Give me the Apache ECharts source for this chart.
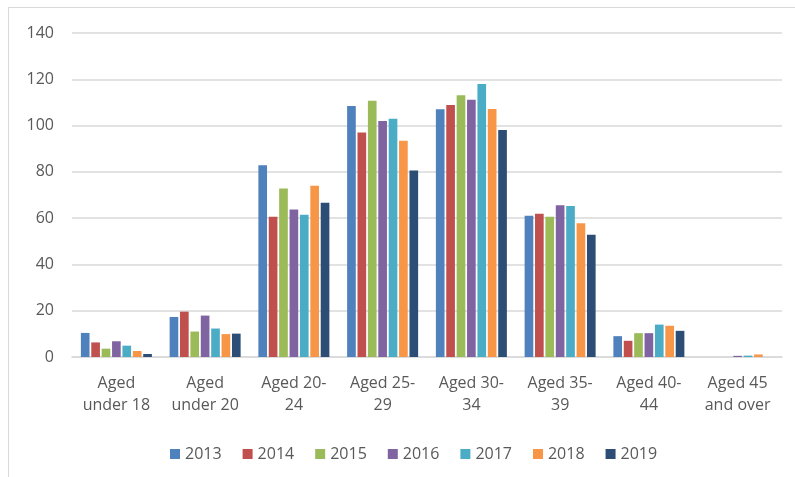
<!DOCTYPE html>
<html>
<head>
<meta charset="utf-8">
<script src="https://cdn.jsdelivr.net/npm/echarts@6/dist/echarts.min.js"></script>
<style>
  html, body { margin: 0; padding: 0; background: #fff; }
  #frame {
    position: absolute; left: 8px; top: 7px; width: 800px; height: 480px;
    border-left: 1px solid #d9d9d9; border-top: 1px solid #d9d9d9;
  }
  #chart { position: absolute; left: 0; top: 0; width: 795px; height: 477px; }
</style>
</head>
<body>
<div id="frame"></div>
<div id="chart"></div>
<script>
// age groups on the x axis
var ageGroups = ['Aged\nunder 18', 'Aged\nunder 20', 'Aged 20-\n24', 'Aged 25-\n29',
  'Aged 30-\n34', 'Aged 35-\n39', 'Aged 40-\n44', 'Aged 45\nand over']
var years = ['2013', '2014', '2015', '2016', '2017', '2018', '2019']
var yearColors = ['#4F81BD', '#C0504D', '#9BBB59', '#8064A2', '#4BACC6', '#F79646', '#2C4D75']
// values per year, one per age group
var v2013 = [10.4, 17.3, 82.9, 108.5, 107.0, 61.0, 9.0, 0]
var v2014 = [6.3, 19.6, 60.6, 97.0, 108.9, 61.9, 7.0, 0]
var v2015 = [3.6, 11.0, 72.8, 110.7, 113.1, 60.6, 10.3, 0]
var v2016 = [6.8, 17.9, 63.7, 102.0, 111.2, 65.6, 10.3, 0.5]
var v2017 = [4.9, 12.3, 61.5, 102.9, 118.0, 65.2, 14.0, 0.6]
var v2018 = [2.6, 9.9, 74.0, 93.4, 107.2, 57.8, 13.5, 1.1]
var v2019 = [1.3, 10.1, 66.6, 80.6, 98.1, 52.8, 11.3, 0]
var yearValues = [v2013, v2014, v2015, v2016, v2017, v2018, v2019]

var font = 'Open Sans, sans-serif'
var myChart = echarts.init(document.getElementById('chart'))
var series = years.map(function (y, i) {
  return {
    name: y,
    type: 'bar',
    data: yearValues[i],
    barGap: '20%',
    barCategoryGap: '20%',
    itemStyle: {color: yearColors[i]}
  }
})
myChart.setOption({
  animation: false,
  color: yearColors,
  grid: {left: 72, right: 13, top: 33, bottom: 120},
  legend: {
    data: years,
    top: 441,
    left: 165,
    itemWidth: 10,
    itemHeight: 10,
    itemGap: 21,
    icon: 'rect',
    textStyle: {color: '#595959', fontSize: 16, fontFamily: font}
  },
  xAxis: {
    type: 'category',
    data: ageGroups,
    axisLine: {lineStyle: {color: '#d9d9d9', width: 1.5}},
    axisTick: {show: false},
    axisLabel: {color: '#595959', fontSize: 16, fontFamily: font, lineHeight: 22, margin: 15, interval: 0}
  },
  yAxis: {
    type: 'value',
    min: 0,
    max: 140,
    interval: 20,
    axisLine: {show: false},
    axisTick: {show: false},
    axisLabel: {color: '#595959', fontSize: 16, fontFamily: font, margin: 18},
    splitLine: {lineStyle: {color: '#d9d9d9', width: 1.5}}
  },
  series: series
})
</script>
</body>
</html>
